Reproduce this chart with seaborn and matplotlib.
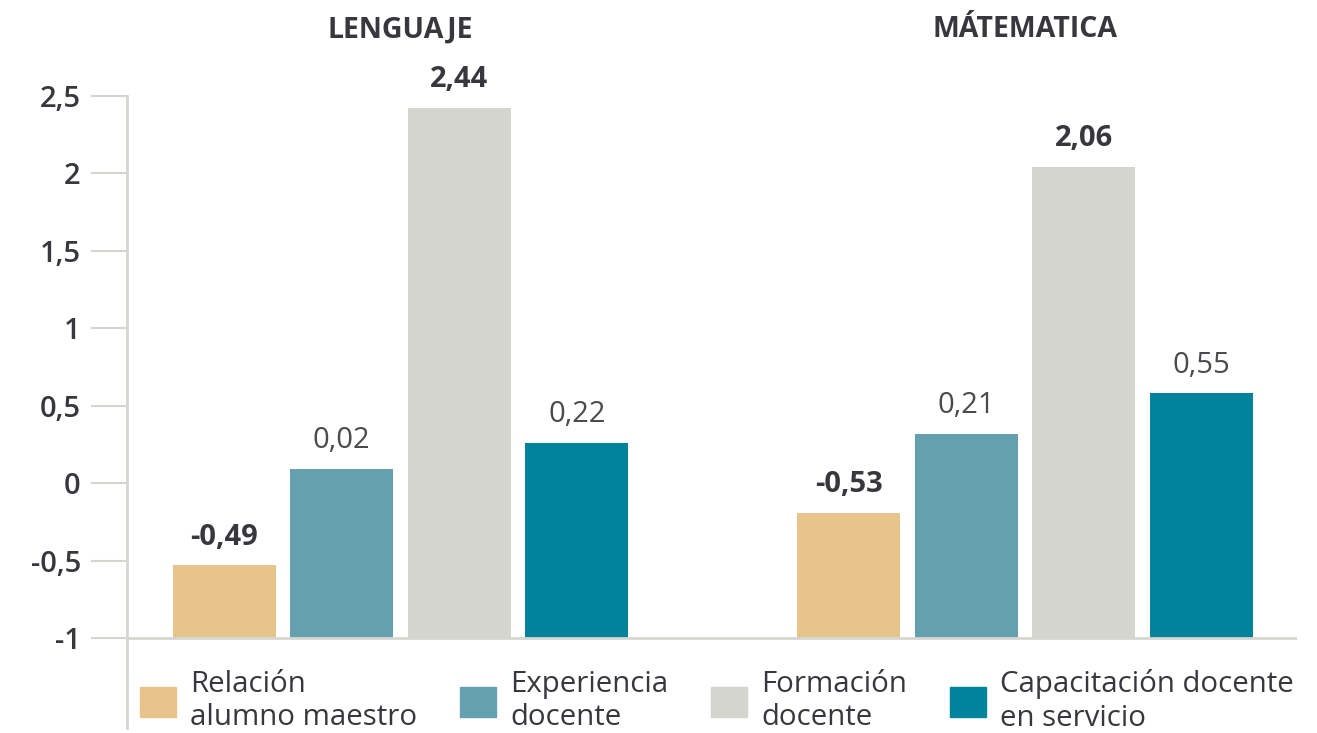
import numpy as np
import pandas as pd
import matplotlib
matplotlib.use("Agg")
import matplotlib.pyplot as plt
import matplotlib.patches as mpatches
from matplotlib.transforms import blended_transform_factory
import seaborn as sns

# ---------------- data ----------------
subjects = ["LENGUAJE", "MÁTEMATICA"]
factors = ["Relación\nalumno maestro", "Experiencia\ndocente",
           "Formación\ndocente", "Capacitación docente\nen servicio"]
# bar heights as drawn in the picture
lenguaje_bar = [-0.53, 0.09, 2.42, 0.26]
matematica_bar = [-0.19, 0.32, 2.04, 0.58]
# value labels as printed
lenguaje_labels = ["-0,49", "0,02", "2,44", "0,22"]
matematica_labels = ["-0,53", "0,21", "2,06", "0,55"]
label_bold = [True, False, True, False]
yticks = [-1, -0.5, 0, 0.5, 1, 1.5, 2, 2.5]
ytick_labels = ["-1", "-0,5", "0", "0,5", "1", "1,5", "2", "2,5"]
baseline = -1.0

colors = ["#E7C58A", "#65A0AF", "#D4D5CF", "#00839B"]
text_color = "#38373d"
axis_color = "#d6d6d1"

sns.set_theme(style="white")
plt.rcParams["font.family"] = ["Open Sans", "DejaVu Sans"]

rows = []
for s, vals in zip(subjects, [lenguaje_bar, matematica_bar]):
    for f, v in zip(factors, vals):
        rows.append({"subject": s, "factor": f, "value": v, "height": v - baseline})
df = pd.DataFrame(rows)

fig = plt.figure(figsize=(13.17, 7.33), dpi=100)
ax = fig.add_axes([0.0962, 0.0068, 0.9848 - 0.0962, 0.8694 - 0.0068])

sns.barplot(data=df, x="subject", y="height", hue="factor", order=subjects,
            hue_order=factors, palette=colors, saturation=1, width=0.753,
            gap=0.123, linewidth=0, legend=False, ax=ax)

ax.set_xlim(-0.4384, 1.4355)
ax.set_ylim(-1.579 - baseline, 2.5 - baseline)
ax.set_xlabel("")
ax.set_ylabel("")
ax.set_yticks([t - baseline for t in yticks])
ax.set_yticklabels(ytick_labels)
ax.tick_params(axis="y", left=True, length=26, width=1.5, color=axis_color,
               pad=7, labelsize=21, labelcolor=text_color)
for lbl in ax.get_yticklabels():
    lbl.set_fontweight("semibold")
ax.tick_params(axis="x", bottom=False, labelbottom=False)
for sp in ["top", "right", "bottom"]:
    ax.spines[sp].set_visible(False)
ax.spines["left"].set_color(axis_color)
ax.spines["left"].set_linewidth(2)
ax.axhline(0, color=axis_color, lw=2, zorder=3)

all_labels = [lenguaje_labels, matematica_labels]
for i, cont in enumerate(ax.containers):
    for j, bar in enumerate(cont):
        x = bar.get_x() + bar.get_width() / 2
        y = bar.get_y() + bar.get_height()
        bold = label_bold[i]
        ax.annotate(all_labels[j][i], (x, y), xytext=(0, 15),
                    textcoords="offset points", ha="center", va="baseline",
                    fontsize=21, fontweight="bold" if bold else "normal",
                    color=text_color if bold else "#4a4a4f")

trans = blended_transform_factory(ax.transData, ax.transAxes)
for j, s in enumerate(subjects):
    ax.text(j, 1.104, s, transform=trans, ha="center", va="center",
            fontsize=20.5, fontweight="bold", color=text_color)

handles = [mpatches.Patch(color=c) for c in colors]
fig.legend(handles, factors, loc="center left",
           bbox_to_anchor=(140 / 1317, 1 - 701 / 733), ncol=4, frameon=False,
           fontsize=21.2, handlelength=1.22, handleheight=1.22, handletextpad=0.48,
           columnspacing=1.46, borderpad=0, borderaxespad=0,
           labelcolor=text_color)

fig.savefig("out.png", dpi=100)
